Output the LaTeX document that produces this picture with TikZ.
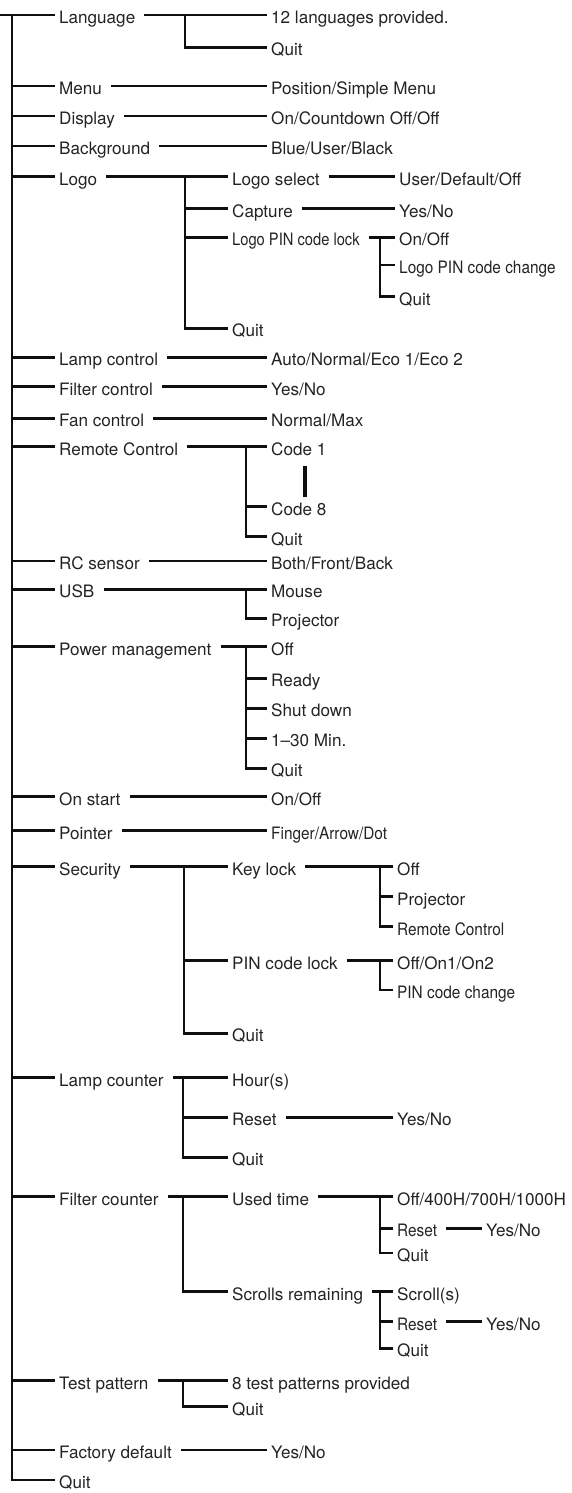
\documentclass[tikz,border=0pt]{standalone}
\usepackage{fontspec}
\setmainfont{TeX Gyre Heros}
\newfontfamily\narrowfont[FakeStretch=0.9]{TeX Gyre Heros}
\newfontfamily\narrowerfont[FakeStretch=0.86]{TeX Gyre Heros}
\definecolor{MenuText}{RGB}{35,35,35}
\definecolor{MenuLine}{RGB}{15,15,15}
\tikzset{
  entry/.style={anchor=west,inner xsep=3pt,inner ysep=0pt,
    text height=17pt,text depth=0pt,text=MenuText,
    font=\fontsize{17.1}{18}\selectfont},
  narrowentry/.style={entry,font=\narrowfont\fontsize{17.1}{18}\selectfont},
  narrowerentry/.style={entry,font=\narrowerfont\fontsize{17.1}{18}\selectfont},
  link/.style={draw=MenuLine,line width=2.5pt,shorten <=6pt,shorten >=1pt},
  branch/.style={draw=MenuLine,line width=2.5pt,shorten >=1pt},
  etcbar/.style={draw=MenuLine,line width=3.2pt}
}
\begin{document}
\begin{tikzpicture}[x=1pt,y=-1pt]
\useasboundingbox (0,0) rectangle (571,1493);

% main menu items
\node[entry] (language)   at (56,15)     {Language};
\node[entry] (menu)       at (56,86)     {Menu};
\node[entry] (display)    at (56,116)    {Display};
\node[entry] (background) at (56,146)    {Background};
\node[entry] (logo)       at (56,176.5)  {Logo};
\node[entry] (lampctl)    at (56,357.3)  {Lamp control};
\node[entry] (filterctl)  at (56,386.7)  {Filter control};
\node[entry] (fanctl)     at (56,418.3)  {Fan control};
\node[entry] (remote)     at (56,446.7)  {Remote Control};
\node[entry] (rcsensor)   at (56,561)    {RC sensor};
\node[entry] (usb)        at (56,589.3)  {USB};
\node[entry] (power)      at (56,646.7)  {Power management};
\node[entry] (onstart)    at (56,796.7)  {On start};
\node[entry] (pointer)    at (56,830.7)  {Pointer};
\node[entry] (security)   at (56,866.7)  {Security};
\node[entry] (lampcnt)    at (56,1077.7) {Lamp counter};
\node[entry] (filtercnt)  at (56,1196.7) {Filter counter};
\node[entry] (testpat)    at (56,1380.7) {Test pattern};
\node[entry] (factory)    at (56,1450)   {Factory default};
\node[entry] (quit)       at (56,1480)   {Quit};

% trunk
\coordinate (root)  at (0,15);
\coordinate (trunk) at (12,15);
\draw[branch] (root) -- (language.west);
\foreach \n in {menu,display,background,logo,lampctl,filterctl,fanctl,remote,
  rcsensor,usb,power,onstart,pointer,security,lampcnt,filtercnt,testpat,factory,quit}
  \draw[branch] (trunk) |- (\n.west);

% language
\node[entry] (langlist) at (268,15)   {12 languages provided.};
\node[entry] (langquit) at (268,47.3) {Quit};
\coordinate (langV) at (185,15);
\draw[link] (language) -- (langlist);
\draw[branch] (langV) |- (langquit.west);

% single settings
\node[entry] (menuval)    at (268,86)    {Position/Simple Menu};
\node[entry] (displayval) at (268,116)   {On/Countdown Off/Off};
\node[entry] (bgval)      at (268,146)   {Blue/User/Black};
\node[entry] (lampval)    at (268,357.3) {Auto/Normal/Eco 1/Eco 2};
\node[entry] (filterval)  at (268,386.7) {Yes/No};
\node[entry] (fanval)     at (268,418.3) {Normal/Max};
\node[entry] (rcval)      at (268,561)   {Both/Front/Back};
\node[entry] (onstartval) at (268,796.7) {On/Off};
\node[narrowentry] (pointerval) at (268,830.7) {Finger/Arrow/Dot};
\node[entry] (factoryval) at (268,1450)  {Yes/No};
\draw[link] (menu) -- (menuval);
\draw[link] (display) -- (displayval);
\draw[link] (background) -- (bgval);
\draw[link] (lampctl) -- (lampval);
\draw[link] (filterctl) -- (filterval);
\draw[link] (fanctl) -- (fanval);
\draw[link] (rcsensor) -- (rcval);
\draw[link] (onstart) -- (onstartval);
\draw[link] (pointer) -- (pointerval);
\draw[link] (factory) -- (factoryval);

% logo
\node[entry] (logosel)  at (229,176.5) {Logo select};
\node[entry] (logocap)  at (229,208.7) {Capture};
\node[narrowerentry] (logopin) at (229,237.3) {Logo PIN code lock};
\node[entry] (logoquit) at (229,328.3) {Quit};
\coordinate (logoV) at (185,176.5);
\draw[link] (logo) -- (logosel);
\foreach \c in {logocap,logopin,logoquit}
  \draw[branch] (logoV) |- (\c.west);
\node[entry] (logoselval) at (396,176.5) {User/Default/Off};
\node[entry] (logocapval) at (396,208.7) {Yes/No};
\draw[link] (logosel) -- (logoselval);
\draw[link] (logocap) -- (logocapval);
\node[entry] (pinonoff)  at (396,237.3) {On/Off};
\node[narrowentry] (pinchange) at (396,265) {Logo PIN code change};
\node[entry] (pinquit)   at (396,296.7) {Quit};
\coordinate (pinV) at (380,237.3);
\draw[link] (logopin) -- (pinonoff);
\foreach \c in {pinchange,pinquit}
  \draw[branch] (pinV) |- (\c.west);

% remote control
\node[entry] (code1)   at (268,446.7) {Code 1};
\node[entry] (code8)   at (268,506.7) {Code 8};
\node[entry] (remquit) at (268,536.7) {Quit};
\coordinate (remoteV) at (246,446.7);
\draw[link] (remote) -- (code1);
\foreach \c in {code8,remquit}
  \draw[branch] (remoteV) |- (\c.west);
\coordinate (codegaptop) at (305,466);
\coordinate (codegapbot) at (305,497);
\draw[etcbar] (codegaptop) -- (codegapbot);

% usb
\node[entry] (mouse)     at (268,589.3) {Mouse};
\node[entry] (projector) at (268,618.3) {Projector};
\coordinate (usbV) at (246,589.3);
\draw[link] (usb) -- (mouse);
\draw[branch] (usbV) |- (projector.west);

% power management
\node[entry] (pwoff)   at (268,646.7) {Off};
\node[entry] (pwready) at (268,678.3) {Ready};
\node[entry] (pwshut)  at (268,708.3) {Shut down};
\node[entry] (pwmin)   at (268,738.3) {1–30 Min.};
\node[entry] (pwquit)  at (268,768.3) {Quit};
\coordinate (powerV) at (246,646.7);
\draw[link] (power) -- (pwoff);
\foreach \c in {pwready,pwshut,pwmin,pwquit}
  \draw[branch] (powerV) |- (\c.west);

% security
\node[entry] (keylock) at (229,866.7)  {Key lock};
\node[entry] (pinlock) at (229,960.7)  {PIN code lock};
\node[entry] (secquit) at (229,1033.3) {Quit};
\coordinate (securityV) at (184,866.7);
\draw[link] (security) -- (keylock);
\foreach \c in {pinlock,secquit}
  \draw[branch] (securityV) |- (\c.west);
\node[entry] (kloff)    at (394,866.7) {Off};
\node[entry] (klproj)   at (394,896.7) {Projector};
\node[narrowentry] (klremote) at (394,926.7) {Remote Control};
\coordinate (keylockV) at (380,866.7);
\draw[link] (keylock) -- (kloff);
\foreach \c in {klproj,klremote}
  \draw[branch] (keylockV) |- (\c.west);
\node[entry] (ploff)    at (394,960.7) {Off/On1/On2};
\node[narrowentry] (plchange) at (394,990) {PIN code change};
\coordinate (pinlockV) at (380,960.7);
\draw[link] (pinlock) -- (ploff);
\draw[branch] (pinlockV) |- (plchange.west);

% lamp counter
\node[entry] (hours)   at (229,1077.7) {Hour(s)};
\node[entry] (lcreset) at (229,1117.3) {Reset};
\node[entry] (lcquit)  at (229,1157.3) {Quit};
\coordinate (lampcntV) at (183,1077.7);
\draw[link] (lampcnt) -- (hours);
\foreach \c in {lcreset,lcquit}
  \draw[branch] (lampcntV) |- (\c.west);
\node[entry] (lcyes) at (394,1117.3) {Yes/No};
\draw[link] (lcreset) -- (lcyes);

% filter counter
\node[entry] (usedtime) at (229,1196.7) {Used time};
\node[entry] (scrolls)  at (229,1291.7) {Scrolls remaining};
\coordinate (filtercntV) at (183,1196.7);
\draw[link] (filtercnt) -- (usedtime);
\draw[branch] (filtercntV) |- (scrolls.west);
\node[entry] (utval)   at (394,1196.7) {Off/400H/700H/1000H};
\node[narrowentry] (utreset) at (394,1228.3) {Reset};
\node[entry] (utquit)  at (394,1253)   {Quit};
\coordinate (usedV) at (380,1196.7);
\draw[link] (usedtime) -- (utval);
\foreach \c in {utreset,utquit}
  \draw[branch] (usedV) |- (\c.west);
\node[entry] (utyes) at (483,1228.3) {Yes/No};
\draw[link] (utreset) -- (utyes);
\node[entry] (scval)   at (394,1291.7) {Scroll(s)};
\node[narrowentry] (screset) at (394,1321.7) {Reset};
\node[entry] (scquit)  at (394,1348.3) {Quit};
\coordinate (scrollsV) at (380,1291.7);
\draw[link] (scrolls) -- (scval);
\foreach \c in {screset,scquit}
  \draw[branch] (scrollsV) |- (\c.west);
\node[entry] (scyes) at (483,1321.7) {Yes/No};
\draw[link] (screset) -- (scyes);

% test pattern
\node[entry] (tplist) at (229,1380.7) {8 test patterns provided};
\node[entry] (tpquit) at (229,1406.7) {Quit};
\coordinate (testV) at (183,1380.7);
\draw[link] (testpat) -- (tplist);
\draw[branch] (testV) |- (tpquit.west);
\end{tikzpicture}
\end{document}
